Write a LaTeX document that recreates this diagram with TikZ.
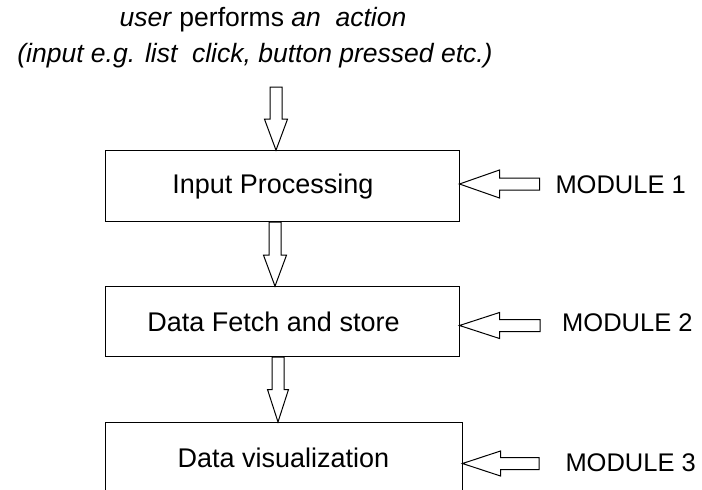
\documentclass[tikz,border=0pt]{standalone}
\usepackage{fontspec}
\setmainfont{Liberation Sans}
\usetikzlibrary{calc}
\newcommand{\blockarrow}[4]{%
  \coordinate (hb) at ($(#2)!#3!(#1)$);
  \draw[fill=white] ($(#1)!6pt!90:(#2)$) -- ($(hb)!6pt!90:(#2)$) -- ($(hb)!#4!90:(#2)$) -- (#2)
    -- ($(hb)!#4!-90:(#2)$) -- ($(hb)!6pt!-90:(#2)$) -- ($(#1)!6pt!-90:(#2)$) -- cycle;}
\tikzset{
  box/.style={draw, minimum width=354pt, minimum height=71pt, inner sep=0pt,
    font=\fontsize{27}{30}\selectfont},
  module/.style={anchor=west, inner sep=0pt, font=\fontsize{25.5}{30}\selectfont},
  caption/.style={anchor=base, inner sep=0pt, font=\fontsize{26.5}{30}\selectfont}
}
\begin{document}
\begin{tikzpicture}[x=1pt, y=-1pt, line width=1pt]
  \useasboundingbox (0,0) rectangle (702,490);
  \node[caption] (c1) at (263,26) {\textit{user} performs \textit{an\ \ action}};
  \node[caption] (c2) at (255,62) {\textit{(input e.g. list\ \ click, button pressed etc.)}};
  \node[box] (in) at (282,186.2) {Input Processing\hspace*{18pt}};
  \node[box, minimum height=70pt] (fetch) at (282,321.7) {Data Fetch and store\hspace*{17pt}};
  \node[box, minimum width=357pt] (vis) at (283.5,458) {Data visualization};
  \node[module] (m1) at (555,185) {MODULE 1};
  \node[module] (m2) at (561.7,323) {MODULE 2};
  \node[module] (m3) at (565,463) {MODULE 3};
  \coordinate (a0) at (276,87);
  \coordinate (a1) at (a0 |- in.north);
  \coordinate (a2) at (275,0 |- in.south);
  \coordinate (a3) at (275,0 |- fetch.north);
  \coordinate (a4) at (278,0 |- fetch.south);
  \coordinate (a5) at (278,0 |- vis.north);
  \coordinate (t1) at (539.5,184);
  \coordinate (t2) at (540,325.5);
  \coordinate (t3) at (539,463.5);
  \coordinate (e1) at (t1 -| in.east);
  \coordinate (e2) at (t2 -| fetch.east);
  \coordinate (e3) at (t3 -| vis.east);
  \blockarrow{a0}{a1}{31pt}{11.5pt}
  \blockarrow{a2}{a3}{31pt}{11.5pt}
  \blockarrow{a4}{a5}{32.5pt}{10.5pt}
  \blockarrow{t1}{e1}{40pt}{14pt}
  \blockarrow{t2}{e2}{40pt}{13pt}
  \blockarrow{t3}{e3}{38pt}{12.5pt}
\end{tikzpicture}
\end{document}
